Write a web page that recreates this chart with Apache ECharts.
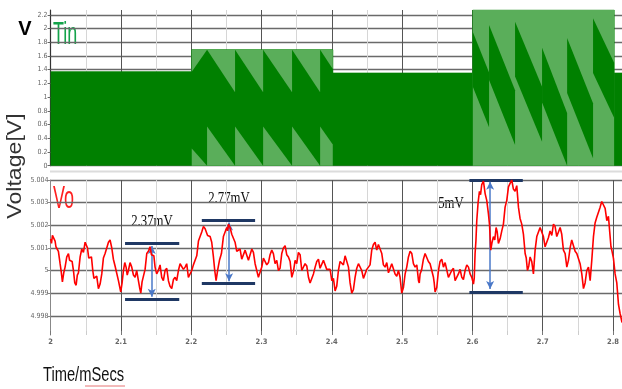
<!DOCTYPE html>
<html>
<head>
<meta charset="utf-8">
<script src="https://cdn.jsdelivr.net/npm/echarts@6/dist/echarts.min.js"></script>
<style>
  html, body { margin: 0; padding: 0; background: #fff; }
  #chart { width: 622px; height: 389px; }
</style>
</head>
<body>
<div id="chart"></div>
<script>
// --- 时间轴范围（ms）
const timeMin = 2.0;
const timeMax = 2.8128;

// --- Tin：开关波形的包络（深绿实心块）
const tinEnvTime = [2.0, 2.2008, 2.2008, 2.4014, 2.4014, 2.6006, 2.6006, 2.8016, 2.8016, 2.8128];
const tinEnvValue = [1.37, 1.37, 1.69, 1.69, 1.35, 1.35, 2.27, 2.27, 1.35, 1.35];

// 2.2~2.4 段锯齿状浅色三角（从图上读取的顶点）
const tinLightPolys = [
  [[2.2008, 1.69], [2.2226, 1.69], [2.2008, 1.37]],
  [[2.2008, 0.25], [2.2226, 0], [2.2008, 0]],
  [[2.2226, 1.69], [2.2624, 1.69], [2.2624, 1.07]],
  [[2.2226, 0.57], [2.2624, 0], [2.2226, 0]],
  [[2.2624, 1.69], [2.3023, 1.69], [2.3023, 1.07]],
  [[2.2624, 0.57], [2.3023, 0], [2.2624, 0]],
  [[2.3023, 1.69], [2.3435, 1.69], [2.3435, 1.07]],
  [[2.3023, 0.57], [2.3435, 0], [2.3023, 0]],
  [[2.3435, 1.69], [2.3834, 1.69], [2.3834, 1.07]],
  [[2.3435, 0.57], [2.3834, 0], [2.3435, 0]],
  [[2.3834, 1.69], [2.4014, 1.69], [2.4014, 1.41]],
  [[2.3834, 0.57], [2.4014, 0.31], [2.4014, 0], [2.3834, 0]],
  // 2.6~2.8 段整体为浅色条纹
  [[2.6006, 0], [2.6006, 2.27], [2.8016, 2.27], [2.8016, 0]]
];

// 2.6~2.8 段的深色斜带
const tinDarkPolys = [
  [[2.6006, 1.95], [2.6237, 1.36], [2.6237, 0.56], [2.6006, 1.15]],
  [[2.6237, 2.05], [2.6607, 1.10], [2.6607, 0.30], [2.6237, 1.25]],
  [[2.6607, 2.10], [2.6991, 1.15], [2.6991, 0.35], [2.6607, 1.30]],
  [[2.6991, 1.72], [2.7347, 0.77], [2.7347, 0.00], [2.6991, 0.92]],
  [[2.7347, 1.86], [2.7716, 0.91], [2.7716, 0.11], [2.7347, 1.06]],
  [[2.7716, 2.15], [2.8016, 1.50], [2.8016, 0.70], [2.7716, 1.35]]
];

// --- Vo：输出电压，5 V 基准上的纹波（mV）
const voBase = 5;
const voTime = [
  2.0000, 2.0013, 2.0026, 2.0045, 2.0064, 2.0076, 2.0088, 2.0111, 2.0135, 2.0151,
  2.0168, 2.0187, 2.0206, 2.0230, 2.0254, 2.0270, 2.0287, 2.0306, 2.0325, 2.0344,
  2.0363, 2.0380, 2.0396, 2.0420, 2.0443, 2.0467, 2.0491, 2.0508, 2.0524, 2.0543,
  2.0562, 2.0581, 2.0600, 2.0616, 2.0633, 2.0656, 2.0680, 2.0704, 2.0728, 2.0751,
  2.0775, 2.0799, 2.0823, 2.0846, 2.0870, 2.0893, 2.0917, 2.0941, 2.0965, 2.0981,
  2.0998, 2.1017, 2.1036, 2.1055, 2.1074, 2.1090, 2.1107, 2.1130, 2.1154, 2.1178,
  2.1202, 2.1225, 2.1249, 2.1266, 2.1283, 2.1301, 2.1320, 2.1344, 2.1368, 2.1391,
  2.1415, 2.1434, 2.1453, 2.1469, 2.1486, 2.1509, 2.1533, 2.1557, 2.1581, 2.1604,
  2.1628, 2.1652, 2.1676, 2.1699, 2.1723, 2.1747, 2.1771, 2.1794, 2.1818, 2.1842,
  2.1866, 2.1889, 2.1913, 2.1936, 2.1960, 2.1984, 2.2008, 2.2031, 2.2055, 2.2079,
  2.2103, 2.2126, 2.2150, 2.2174, 2.2198, 2.2233, 2.2269, 2.2292, 2.2316, 2.2335,
  2.2354, 2.2378, 2.2402, 2.2430, 2.2458, 2.2482, 2.2506, 2.2518, 2.2530, 2.2553,
  2.2577, 2.2600, 2.2624, 2.2648, 2.2672, 2.2695, 2.2719, 2.2743, 2.2767, 2.2790,
  2.2814, 2.2838, 2.2862, 2.2885, 2.2909, 2.2932, 2.2956, 2.2980, 2.3004, 2.3027,
  2.3051, 2.3075, 2.3099, 2.3122, 2.3146, 2.3169, 2.3193, 2.3217, 2.3241, 2.3264,
  2.3288, 2.3312, 2.3336, 2.3359, 2.3383, 2.3407, 2.3431, 2.3454, 2.3478, 2.3501,
  2.3525, 2.3549, 2.3573, 2.3596, 2.3620, 2.3644, 2.3668, 2.3691, 2.3715, 2.3739,
  2.3763, 2.3786, 2.3810, 2.3833, 2.3857, 2.3881, 2.3905, 2.3928, 2.3952, 2.3976,
  2.4000, 2.4023, 2.4047, 2.4070, 2.4094, 2.4118, 2.4142, 2.4165, 2.4189, 2.4213,
  2.4237, 2.4260, 2.4284, 2.4307, 2.4331, 2.4355, 2.4379, 2.4402, 2.4426, 2.4450,
  2.4474, 2.4497, 2.4521, 2.4544, 2.4568, 2.4592, 2.4616, 2.4639, 2.4663, 2.4687,
  2.4711, 2.4734, 2.4758, 2.4782, 2.4806, 2.4829, 2.4853, 2.4876, 2.4900, 2.4924,
  2.4948, 2.4971, 2.4995, 2.5019, 2.5043, 2.5066, 2.5090, 2.5114, 2.5138, 2.5161,
  2.5185, 2.5209, 2.5233, 2.5244, 2.5256, 2.5279, 2.5303, 2.5327, 2.5351, 2.5374,
  2.5398, 2.5422, 2.5446, 2.5457, 2.5469, 2.5493, 2.5517, 2.5540, 2.5564, 2.5588,
  2.5612, 2.5635, 2.5659, 2.5682, 2.5706, 2.5730, 2.5754, 2.5777, 2.5801, 2.5825,
  2.5849, 2.5872, 2.5896, 2.5920, 2.5944, 2.5967, 2.5991, 2.6003, 2.6015, 2.6026,
  2.6038, 2.6050, 2.6062, 2.6081, 2.6100, 2.6116, 2.6133, 2.6157, 2.6181, 2.6204,
  2.6228, 2.6244, 2.6261, 2.6280, 2.6299, 2.6318, 2.6337, 2.6353, 2.6370, 2.6394,
  2.6418, 2.6441, 2.6465, 2.6489, 2.6513, 2.6536, 2.6560, 2.6583, 2.6607, 2.6631,
  2.6655, 2.6678, 2.6702, 2.6726, 2.6750, 2.6766, 2.6783, 2.6802, 2.6821, 2.6844,
  2.6868, 2.6892, 2.6916, 2.6939, 2.6963, 2.6986, 2.7010, 2.7034, 2.7058, 2.7081,
  2.7105, 2.7129, 2.7153, 2.7176, 2.7200, 2.7224, 2.7248, 2.7271, 2.7295, 2.7319,
  2.7343, 2.7366, 2.7390, 2.7413, 2.7437, 2.7461, 2.7485, 2.7508, 2.7532, 2.7556,
  2.7580, 2.7603, 2.7627, 2.7651, 2.7675, 2.7698, 2.7722, 2.7745, 2.7769, 2.7793,
  2.7817, 2.7840, 2.7864, 2.7888, 2.7912, 2.7935, 2.7959, 2.7971, 2.7983, 2.8006,
  2.8030, 2.8054, 2.8078, 2.8089, 2.8101, 2.8115, 2.8128
];
const voRippleMv = [
  1.40, 1.20, 1.55, 1.60, 1.30, 1.05, 1.00, 0.85, 0.30, -0.05,
  -0.50, -0.10, 0.15, 0.60, 0.75, 0.45, 0.45, 0.40, 0.00, -0.55,
  -0.65, -0.20, -0.10, 0.60, 0.95, 0.80, 1.25, 1.30, 1.00, 0.55,
  0.60, 0.60, 0.00, -0.35, -0.30, -0.25, -0.80, -0.60, -0.15, 0.55,
  0.75, 0.75, 1.25, 1.35, 1.00, 0.50, 0.20, 0.20, -0.45, -0.40,
  -0.95, -0.55, 0.00, 0.35, 0.15, -0.20, 0.00, 0.35, 0.15, -0.20,
  -0.30, 0.00, -0.45, -0.75, -1.00, -0.50, -0.45, 0.05, 0.75, 0.85,
  1.05, 0.70, 0.75, 0.65, 0.15, -0.15, 0.00, 0.25, -0.30, -0.45,
  0.00, 0.10, -0.45, -0.70, -0.80, -0.40, -0.30, -0.45, 0.00, 0.30,
  0.35, 0.05, 0.15, 0.30, -0.30, -0.30, 0.00, 0.25, 0.30, 0.65,
  1.30, 1.25, 1.70, 1.95, 1.85, 1.55, 1.50, 1.25, 0.60, 0.00,
  -0.45, 0.05, 0.45, 0.75, 1.50, 1.55, 1.90, 1.75, 2.05, 1.90,
  1.60, 1.65, 1.25, 0.85, 0.90, 0.95, 0.50, 0.45, 0.90, 0.95,
  0.45, 0.40, 0.95, 0.80, 0.30, 0.25, -0.30, -0.25, 0.15, 0.55,
  0.60, 0.25, 0.35, 0.70, 0.90, 0.75, 0.30, 0.45, 0.00, 0.10,
  0.75, 1.00, 1.10, 0.70, 0.60, 0.40, -0.30, -0.05, 0.45, 0.30,
  0.80, 0.70, 0.00, -0.05, 0.30, 0.20, -0.30, -0.55, -0.60, -0.15,
  0.15, 0.40, 0.50, 0.10, 0.05, 0.45, 0.45, 0.05, 0.00, 0.05,
  -0.45, -0.35, -0.90, -0.70, 0.00, 0.40, 0.45, 0.25, 0.65, 0.70,
  0.15, -0.55, -1.00, -0.85, -0.30, 0.10, 0.30, 0.35, 0.00, -0.35,
  -0.30, 0.05, 0.15, 0.25, 0.90, 1.15, 1.25, 0.90, 1.15, 1.20,
  0.75, 0.25, 0.15, 0.35, -0.10, -0.05, 0.30, 0.35, -0.15, -0.25,
  0.00, -0.30, -1.00, -0.75, -0.15, 0.15, 0.60, 0.85, 0.75, 0.30,
  0.15, 0.25, -0.45, -0.55, -0.15, 0.05, 0.50, 0.75, 0.75, 0.40,
  0.30, 0.25, -0.30, -0.55, -0.95, -0.75, 0.00, 0.40, 0.50, 0.15,
  0.35, 0.30, -0.30, -0.35, 0.00, 0.10, -0.45, -0.50, -0.15, 0.05,
  -0.30, -0.40, 0.00, 0.25, 0.15, -0.15, -0.30, -0.25, -0.60, -0.35,
  0.75, 1.30, 2.20, 3.00, 3.50, 3.35, 3.80, 3.95, 3.40, 3.10,
  2.50, 2.00, 0.90, 1.25, 1.50, 1.35, 1.90, 1.70, 1.20, 1.40,
  1.75, 2.05, 2.80, 3.10, 3.70, 3.85, 4.00, 3.60, 3.50, 3.75,
  2.80, 2.30, 2.05, 1.60, 0.75, 0.55, 0.00, 0.20, 0.60, 0.40,
  -0.15, 0.90, 1.50, 1.45, 1.90, 1.95, 1.50, 1.05, 1.00, 1.45,
  1.75, 1.55, 2.05, 1.95, 1.50, 1.45, 1.90, 1.60, 0.90, 0.75,
  0.15, 0.45, 1.00, 1.35, 1.30, 0.85, 0.75, 0.80, 0.30, -0.15,
  -0.80, -0.55, 0.00, 0.15, -0.45, 0.45, 1.50, 2.10, 2.35, 2.30,
  2.80, 3.05, 3.00, 2.75, 2.20, 2.40, 1.50, 1.05, 0.90, 0.55,
  -0.15, -0.55, -1.50, -1.50, -1.90, -2.10, -2.30
];

// --- 标注：纹波幅度
const spanLabels = ['2.37mV', '2.77mV', '5mV'];
const spanStart = [2.1059, 2.2151, 2.5957];
const spanEnd = [2.1830, 2.2909, 2.6717];
const spanHigh = [5.00120, 5.00220, 5.00400];
const spanLow = [4.99874, 4.99943, 4.99906];
const arrowTime = [2.1439, 2.2539, 2.6252];
const arrowHigh = [5.00108, 5.00212, 5.00392];
const arrowLow = [4.99884, 4.99953, 4.99918];

const labelFont = 'Liberation Sans Narrow, DejaVu Sans Condensed, Liberation Sans, sans-serif';
const GRID_LEFT = 50.6;
const GRID_WIDTH = 571.4;

function polySeries(polys, fill, z) {
  return {
    type: 'custom',
    xAxisIndex: 0,
    yAxisIndex: 0,
    z: z,
    silent: true,
    animation: false,
    data: polys.map(p => p[0]),
    renderItem: function (params, api) {
      const pts = polys[params.dataIndex].map(p => api.coord(p));
      return { type: 'polygon', shape: { points: pts }, style: { fill: fill } };
    }
  };
}

function majorX(gridIndex, showLabel) {
  return {
    type: 'value', gridIndex: gridIndex, position: 'bottom', min: timeMin, max: timeMax,
    minInterval: 0.1, maxInterval: 0.1,
    axisLine: { show: false },
    axisTick: { show: showLabel, inside: true, length: 4, lineStyle: { color: '#777' } },
    axisLabel: {
      show: showLabel, showMaxLabel: false, margin: 3,
      fontSize: 7.5, fontWeight: 'bold', color: '#666', fontFamily: labelFont
    },
    splitLine: { show: true, showMaxLine: false, lineStyle: { color: '#555', width: 1 } }
  };
}
function minorX(gridIndex) {
  return {
    type: 'value', gridIndex: gridIndex, position: 'bottom', min: timeMin, max: timeMax,
    minInterval: 0.05, maxInterval: 0.05,
    axisLine: { show: false },
    axisTick: { show: gridIndex === 1, inside: true, length: 4, lineStyle: { color: '#ccc' } },
    axisLabel: { show: false },
    splitLine: { show: true, showMaxLine: false, lineStyle: { color: '#d6d6d6', width: 1 } }
  };
}

// 只显示整格刻度的标签
function tickLabel(step, digits) {
  return function (v) {
    const k = v / step;
    return Math.abs(k - Math.round(k)) < 1e-6 ? String(+v.toFixed(digits)) : '';
  };
}

const chart = echarts.init(document.getElementById('chart'));

const markLineData = [];
for (let i = 0; i < spanLabels.length; i++) {
  const bar = { color: '#1f3864', width: 3, type: 'solid' };
  markLineData.push([{ coord: [spanStart[i], spanHigh[i]], lineStyle: bar }, { coord: [spanEnd[i], spanHigh[i]] }]);
  markLineData.push([{ coord: [spanStart[i], spanLow[i]], lineStyle: bar }, { coord: [spanEnd[i], spanLow[i]] }]);
  markLineData.push([
    { coord: [arrowTime[i], arrowHigh[i]], symbol: 'arrow', symbolSize: [6, 8], lineStyle: { color: '#4a78c8', width: 1.5, type: 'solid' } },
    { coord: [arrowTime[i], arrowLow[i]], symbol: 'arrow', symbolSize: [6, 8] }
  ]);
}

// 拼写检查的红色波浪线
const squiggle = [];
for (let x = 85; x <= 126; x += 2) squiggle.push([x, (x / 2) % 2 === 0 ? 383.5 : 386]);

const textStyle = (text, font, fill, align) => ({
  text: text, font: font, fill: fill,
  align: align, verticalAlign: 'middle', textAlign: align, textVerticalAlign: 'middle'
});
const sansFont = 'Liberation Sans, Arial, sans-serif';
const serifFont = 'Liberation Serif, Times New Roman, serif';

chart.setOption({
  animation: false,
  backgroundColor: '#fff',
  grid: [
    { left: GRID_LEFT, width: GRID_WIDTH, top: 10, height: 155.7, outerBoundsMode: 'none' },
    { left: GRID_LEFT, width: GRID_WIDTH, top: 180, height: 155, outerBoundsMode: 'none' }
  ],
  xAxis: [minorX(0), majorX(0, false), minorX(1), majorX(1, true)],
  yAxis: [
    {
      type: 'value', gridIndex: 0, min: 0, max: 2.27, minInterval: 0.2, maxInterval: 0.2,
      axisLine: { show: true, lineStyle: { color: '#333', width: 1.2 } },
      axisTick: { show: true, length: 3, lineStyle: { color: '#666' } },
      axisLabel: { showMaxLabel: false, margin: 3, fontSize: 7, color: '#666', fontFamily: labelFont, formatter: tickLabel(0.2, 1) },
      splitLine: { show: true, showMaxLine: false, lineStyle: { color: '#6a6a6a', width: 1.4 } }
    },
    {
      type: 'value', gridIndex: 1, min: 4.99715, max: 5.004, minInterval: 0.001, maxInterval: 0.001,
      axisLine: { show: true, lineStyle: { color: '#888', width: 1 } },
      axisTick: { show: true, length: 3, lineStyle: { color: '#888' } },
      axisLabel: { showMinLabel: false, margin: 2, fontSize: 7, color: '#666', fontFamily: labelFont, formatter: tickLabel(0.001, 3) },
      splitLine: { show: true, showMinLine: false, lineStyle: { color: '#6a6a6a', width: 1.4 } }
    }
  ],
  series: [
    {
      type: 'line', xAxisIndex: 1, yAxisIndex: 0, silent: true, z: 2,
      data: tinEnvTime.map((t, i) => [t, tinEnvValue[i]]),
      symbol: 'none',
      lineStyle: { width: 0.8, color: '#008000' },
      areaStyle: { color: '#008000', opacity: 1 }
    },
    polySeries(tinLightPolys, '#5aae5a', 3),
    polySeries(tinDarkPolys, '#008000', 4),
    {
      type: 'line', xAxisIndex: 3, yAxisIndex: 1, silent: true, z: 5,
      data: voTime.map((t, i) => [t, voBase + voRippleMv[i] / 1000]),
      symbol: 'none',
      lineStyle: { width: 1.6, color: '#ff0000' },
      markLine: {
        silent: true,
        animation: false,
        symbol: ['none', 'none'],
        label: { show: false },
        data: markLineData
      }
    }
  ],
  graphic: [
    { type: 'line', silent: true, shape: { x1: 50, y1: 171.5, x2: 622, y2: 171.5 }, style: { stroke: '#dcdcdc', lineWidth: 2 } },
    { type: 'text', silent: true, x: 25, y: 29, style: textStyle('V', 'bold 20px ' + sansFont, '#000', 'center') },
    { type: 'text', silent: true, x: 53, y: 35.5, scaleX: 0.58, style: textStyle('Tin', '31px ' + sansFont, '#14a34a', 'left') },
    { type: 'text', silent: true, x: 53, y: 199, scaleX: 0.58, style: textStyle('Vo', '31px ' + sansFont, '#ff2020', 'left') },
    { type: 'text', silent: true, x: 15, y: 166, rotation: Math.PI / 2, scaleX: 1.1, style: textStyle('Voltage[V]', '21px ' + sansFont, '#333', 'center') },
    { type: 'text', silent: true, x: 43, y: 375, scaleX: 0.7, style: textStyle('Time/mSecs', '21px ' + sansFont, '#111', 'left') },
    { type: 'polyline', silent: true, shape: { points: squiggle }, style: { stroke: '#e05050', lineWidth: 0.8, fill: null } },
    { type: 'text', silent: true, x: 152, y: 222, scaleX: 0.8, style: textStyle(spanLabels[0], '16px ' + serifFont, '#111', 'center') },
    { type: 'text', silent: true, x: 229, y: 199, scaleX: 0.8, style: textStyle(spanLabels[1], '16px ' + serifFont, '#111', 'center') },
    { type: 'text', silent: true, x: 451, y: 204, scaleX: 0.8, style: textStyle(spanLabels[2], '16px ' + serifFont, '#111', 'center') }
  ]
});
</script>
</body>
</html>
